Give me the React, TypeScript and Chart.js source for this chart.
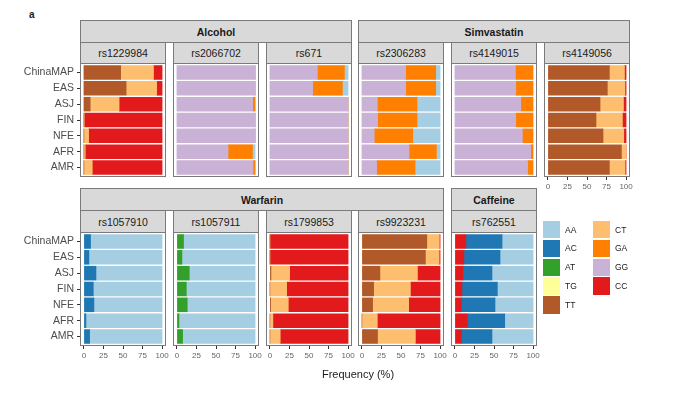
import React, { useEffect, useRef } from "react";
import { Chart, registerables } from "chart.js";
Chart.register(...registerables);

const POPULATIONS = ["ChinaMAP", "EAS", "ASJ", "FIN", "NFE", "AFR", "AMR"];
const X_TICKS = [0, 25, 50, 75, 100];

// Genotype frequencies (%), segments listed left -> right
const rs1229984 = {
  TT: [47, 54, 8, 0, 0, 0, 0],
  CT: [42, 39, 37, 0.5, 6, 1.7, 10.7],
  CC: [11, 7, 55, 99.5, 94, 98.3, 89.3],
};
const rs2066702 = {
  GG: [100, 100, 97, 100, 100, 65.4, 97.4],
  GA: [0, 0, 3, 0, 0, 31.2, 2.6],
  AA: [0, 0, 0, 0, 0, 3.4, 0],
};
const rs671 = {
  GG: [60.7, 54.7, 100, 100, 100, 100, 100],
  GA: [34.6, 38, 0, 0, 0, 0, 0],
  AA: [4.7, 7.3, 0, 0, 0, 0, 0],
};
const rs2306283 = {
  GG: [56, 56, 19.7, 20, 15.8, 60.3, 18.8],
  GA: [38.4, 38.4, 50.8, 50.5, 49.2, 35, 49.2],
  AA: [5.6, 5.6, 29.5, 29.5, 35, 4.7, 32],
};
const rs4149015 = {
  GG: [77.4, 77.8, 84.2, 77.8, 86.3, 97, 93],
  GA: [22.6, 22.2, 15.8, 22.2, 13.7, 3, 7],
};
const rs4149056 = {
  TT: [78.6, 76, 66.7, 61.5, 70.5, 94, 78.6],
  CT: [19.3, 22.5, 29.9, 33.8, 26.5, 6, 20.1],
  CC: [2.1, 1.5, 3.4, 4.7, 3, 0, 1.3],
};
const rs1057910 = {
  AC: [8.5, 6.4, 15.4, 12, 12.8, 2.6, 7.3],
  AA: [91.5, 93.6, 84.6, 88, 87.2, 97.4, 92.7],
};
const rs1057911 = {
  AT: [8.5, 6.4, 15.8, 12, 13.2, 2.6, 7.3],
  AA: [91.5, 93.6, 84.2, 88, 86.8, 97.4, 92.7],
};
const rs1799853 = {
  TT: [0, 0, 1.3, 0, 1, 0, 0],
  CT: [0, 0, 23.9, 21.4, 22.5, 3.8, 13.2],
  CC: [100, 100, 74.8, 78.6, 76.5, 96.2, 86.8],
};
const rs9923231 = {
  TT: [83, 81.2, 23, 15, 13.7, 0, 20],
  CT: [16, 17.5, 48, 47, 46.1, 19.7, 48.4],
  CC: [1, 1.3, 29, 38, 40.2, 80.3, 31.6],
};
const rs762551 = {
  CC: [14, 11.5, 10.3, 9, 8.1, 15.8, 8.5],
  AC: [46.3, 46.2, 37.1, 45.3, 43.2, 47.9, 38.9],
  AA: [39.7, 42.3, 52.6, 45.7, 48.7, 36.3, 52.6],
};

const LEGEND_COL1 = ["AA", "AC", "AT", "TG", "TT"];
const LEGEND_COL2 = ["CT", "GA", "GG", "CC"];

const COLORS: Record<string, string> = {
  AA: "#A6CEE3",
  AC: "#1F78B4",
  AT: "#33A02C",
  TG: "#FFFF99",
  TT: "#B15928",
  CT: "#FDBF6F",
  GA: "#FF7F00",
  GG: "#CAB2D6",
  CC: "#E31A1C",
};

const FONT = "'Liberation Sans', Arial, Helvetica, sans-serif";
const COLS = [80, 173, 266, 358, 451, 544];
const PW = 86;
const PH = 114;
const ROWS = [
  { group: 20, sub: 42, panel: 63 },
  { group: 188, sub: 210, panel: 232 },
];
const PAD = 10;
const PADV = 14;
const BORDER = "#7a7a7a";

type PanelDef = { snp: string; data: Record<string, number[]>; row: number; col: number; ticks: boolean };

const PANELS: PanelDef[] = [
  { snp: "rs1229984", data: rs1229984, row: 0, col: 0, ticks: false },
  { snp: "rs2066702", data: rs2066702, row: 0, col: 1, ticks: false },
  { snp: "rs671", data: rs671, row: 0, col: 2, ticks: false },
  { snp: "rs2306283", data: rs2306283, row: 0, col: 3, ticks: false },
  { snp: "rs4149015", data: rs4149015, row: 0, col: 4, ticks: false },
  { snp: "rs4149056", data: rs4149056, row: 0, col: 5, ticks: true },
  { snp: "rs1057910", data: rs1057910, row: 1, col: 0, ticks: true },
  { snp: "rs1057911", data: rs1057911, row: 1, col: 1, ticks: true },
  { snp: "rs1799853", data: rs1799853, row: 1, col: 2, ticks: true },
  { snp: "rs9923231", data: rs9923231, row: 1, col: 3, ticks: true },
  { snp: "rs762551", data: rs762551, row: 1, col: 4, ticks: true },
];

const GROUPS = [
  { name: "Alcohol", row: 0, c0: 0, c1: 2 },
  { name: "Simvastatin", row: 0, c0: 3, c1: 5 },
  { name: "Warfarin", row: 1, c0: 0, c1: 3 },
  { name: "Caffeine", row: 1, c0: 4, c1: 4 },
];

const borderPlugin = {
  id: "panelBorder",
  afterDraw(chart: any) {
    const { ctx, chartArea: a } = chart;
    ctx.save();
    ctx.strokeStyle = BORDER;
    ctx.lineWidth = 1;
    ctx.strokeRect(Math.round(a.left) + 0.5, Math.round(a.top) + 0.5, Math.round(a.width) - 1, Math.round(a.height) - 1);
    ctx.restore();
  },
};

function Panel({ p }: { p: PanelDef }) {
  const ref = useRef<HTMLCanvasElement>(null);
  const first = p.col === 0;
  const left = first ? 0 : COLS[p.col] - PAD;
  const width = first ? COLS[p.col] + PW + PAD : PW + 2 * PAD;
  const height = PH + (p.ticks ? 20 : 0) + 2 * PADV;
  const top = ROWS[p.row].panel - PADV;

  useEffect(() => {
    const keys = Object.keys(p.data);
    const grid = {
      drawOnChartArea: false,
      drawTicks: true,
      tickLength: 3,
      tickColor: "#333",
      tickWidth: 1,
      offset: false,
    };
    const chart = new Chart(ref.current as HTMLCanvasElement, {
      type: "bar",
      data: {
        datasets: keys.map((k) => ({
          label: k,
          data: p.data[k].map((v, i) => ({ x: v, y: i })),
          backgroundColor: COLORS[k],
          borderWidth: 0,
          barThickness: 13.9,
        })),
      } as any,
      options: {
        indexAxis: "y",
        animation: false,
        responsive: false,
        maintainAspectRatio: false,
        layout: { padding: { left: first ? 0 : PAD, right: PAD, top: PADV, bottom: PADV } },
        plugins: { legend: { display: false }, tooltip: { enabled: false } },
        scales: {
          x: {
            type: "linear",
            stacked: true,
            offset: false,
            min: -5,
            max: 105,
            display: p.ticks,
            afterBuildTicks: (s: any) => {
              s.ticks = X_TICKS.map((v) => ({ value: v }));
            },
            afterFit: (s: any) => {
              s.height = p.ticks ? 20 : 0;
            },
            grid,
            border: { display: false },
            ticks: {
              font: { size: 8, family: FONT },
              color: "#666",
              padding: 2,
              maxRotation: 0,
              autoSkip: false,
            },
          },
          y: {
            type: "linear",
            stacked: true,
            offset: false,
            reverse: true,
            min: -0.6,
            max: 6.6,
            display: first,
            afterBuildTicks: (s: any) => {
              s.ticks = POPULATIONS.map((_, i) => ({ value: i }));
            },
            afterFit: (s: any) => {
              s.width = first ? 80 : 0;
            },
            grid,
            border: { display: false },
            ticks: {
              callback: (v: any) => POPULATIONS[v as number],
              font: { size: 10.5, family: FONT },
              color: "#4d4d4d",
              padding: 3,
              autoSkip: false,
            },
          },
        },
      } as any,
      plugins: [borderPlugin],
    });
    return () => chart.destroy();
  }, []);

  return (
    <canvas
      ref={ref}
      width={width}
      height={height}
      style={{ position: "absolute", left, top, width, height }}
    />
  );
}

function Strip({ left, top, width, height, text, bold }: any) {
  return (
    <div
      style={{
        position: "absolute",
        left,
        top,
        width,
        height,
        boxSizing: "border-box",
        border: `1px solid ${BORDER}`,
        background: "#d9d9d9",
        display: "flex",
        alignItems: "center",
        justifyContent: "center",
        fontFamily: FONT,
        fontSize: 10.5,
        fontWeight: bold ? "bold" : "normal",
        color: "#1a1a1a",
      }}
    >
      {text}
    </div>
  );
}

export default function App() {
  return (
    <div
      style={{
        position: "absolute",
        left: 0,
        top: 0,
        width: 700,
        height: 393,
        background: "#fff",
        overflow: "hidden",
        fontFamily: FONT,
      }}
    >
      <div style={{ position: "absolute", left: 29, top: 9, fontSize: 10, fontWeight: "bold", color: "#222", lineHeight: "12px" }}>a</div>
      {GROUPS.map((g) => (
        <Strip
          key={g.name}
          left={COLS[g.c0]}
          top={ROWS[g.row].group}
          width={COLS[g.c1] + PW - COLS[g.c0]}
          height={ROWS[g.row].sub - ROWS[g.row].group + 1}
          text={g.name}
          bold
        />
      ))}
      {PANELS.map((p) => (
        <Strip
          key={"s" + p.snp}
          left={COLS[p.col]}
          top={ROWS[p.row].sub}
          width={PW}
          height={ROWS[p.row].panel - ROWS[p.row].sub + 1}
          text={p.snp}
        />
      ))}
      {PANELS.map((p) => (
        <Panel key={p.snp} p={p} />
      ))}
      <div
        style={{
          position: "absolute",
          left: 258,
          width: 200,
          top: 367,
          textAlign: "center",
          fontSize: 11,
          color: "#1a1a1a",
          lineHeight: "14px",
        }}
      >
        Frequency (%)
      </div>
      {[LEGEND_COL1, LEGEND_COL2].map((col, ci) =>
        col.map((g, i) => (
          <React.Fragment key={g}>
            <div
              style={{
                position: "absolute",
                left: ci === 0 ? 543 : 593,
                top: 221 + i * 18.8,
                width: 17.4,
                height: 17.4,
                background: COLORS[g],
              }}
            />
            <div
              style={{
                position: "absolute",
                left: ci === 0 ? 565 : 615,
                top: 221 + i * 18.8,
                height: 17.4,
                display: "flex",
                alignItems: "center",
                fontSize: 8.5,
                color: "#1a1a1a",
              }}
            >
              {g}
            </div>
          </React.Fragment>
        ))
      )}
    </div>
  );
}
